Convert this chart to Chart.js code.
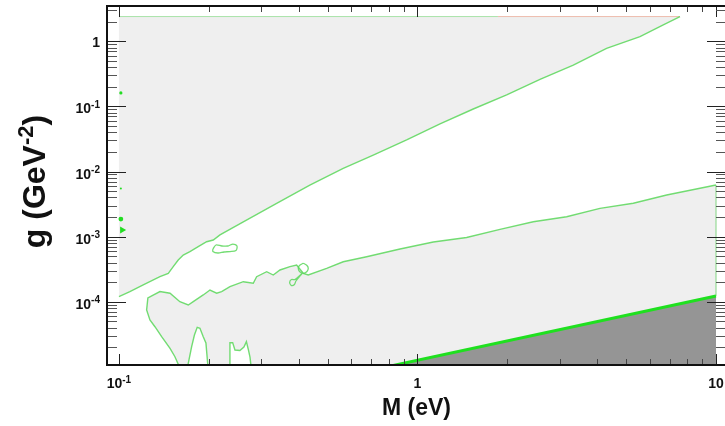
<!DOCTYPE html>
<html>
<head>
<meta charset="utf-8">
<script src="https://cdn.jsdelivr.net/npm/chart.js@4"></script>
<style>
  html, body { margin: 0; padding: 0; background: #fff; }
  #wrap { width: 725px; height: 426px; }
</style>
</head>
<body>
<div id="wrap"><canvas id="myChart" width="725" height="426"></canvas></div>
<script>
// axis ranges: M in eV, g in GeV^-2
var xRange = [0.0912, 10.72];
var yRange = [1.066e-5, 3.485];
var xMajor = [0.1, 1, 10];
var xLabels = [['10', '-1'], ['1', ''], ['10', '']];
var yMajor = [1e-4, 1e-3, 1e-2, 1e-1, 1];
var yLabels = [['10', '-4'], ['10', '-3'], ['10', '-2'], ['10', '-1'], ['1', '']];

var gTop = 2.4;      // top of the scanned g range
var gBottom = 9e-6;  // just below the axis, gets clipped

// upper contour [M, g]
var upperLine = [
  [0.1, 1.2e-4], [0.1088, 1.43e-4], [0.1206, 1.81e-4], [0.1372, 2.42e-4], [0.1463, 2.73e-4],
  [0.152, 3.45e-4], [0.158, 4.37e-4], [0.1642, 5.21e-4], [0.1729, 5.86e-4], [0.1843, 7.0e-4],
  [0.1967, 8.35e-4], [0.207, 8.87e-4], [0.218, 1.06e-3], [0.261, 1.69e-3], [0.3375, 3.25e-3],
  [0.436, 6.2e-3], [0.564, 0.0112], [0.711, 0.0179], [0.92, 0.0305], [1.19, 0.0537],
  [1.538, 0.0912], [1.99, 0.15], [2.573, 0.26], [3.327, 0.432], [4.30, 0.78],
  [5.565, 1.177], [6.66, 1.78], [7.575, 2.4]
];

// lower contour, starting from the bottom of the lump
var lowerLine = [
  [0.161, 9e-6], [0.154, 1.43e-5], [0.1483, 1.92e-5], [0.139, 2.9e-5], [0.132, 4.13e-5],
  [0.127, 5.23e-5], [0.1238, 7.46e-5], [0.125, 1.14e-4], [0.1372, 1.43e-4], [0.1483, 1.35e-4],
  [0.16, 1.0e-4], [0.1707, 8.9e-5], [0.1774, 1.0e-4], [0.1916, 1.27e-4], [0.2018, 1.51e-4],
  [0.2125, 1.35e-4], [0.2208, 1.43e-4], [0.2354, 1.70e-4], [0.261, 2.03e-4], [0.2818, 1.92e-4],
  [0.2892, 2.42e-4], [0.3125, 2.89e-4], [0.3288, 2.57e-4], [0.3463, 3.07e-4], [0.374, 3.45e-4],
  [0.3937, 3.66e-4], [0.4145, 2.73e-4], [0.4307, 2.57e-4], [0.4963, 3.26e-4], [0.564, 4.11e-4],
  [0.6757, 4.91e-4], [0.874, 6.45e-4], [1.13, 8.26e-4], [1.461, 9.68e-4], [1.89, 1.29e-3],
  [2.443, 1.69e-3], [3.16, 2.02e-3], [4.087, 2.72e-3], [5.284, 3.25e-3], [6.836, 4.36e-3],
  [8.84, 5.52e-3], [10, 6.2e-3]
];

var lowerLoop = [
  [0.4145, 3.89e-4], [0.4265, 3.60e-4], [0.4307, 3.26e-4], [0.4265, 2.91e-4], [0.4145, 2.73e-4],
  [0.4025, 2.91e-4], [0.3988, 3.26e-4], [0.4025, 3.60e-4], [0.4145, 3.89e-4]
];
var lowerTail = [
  [0.4105, 2.71e-4], [0.3887, 2.19e-4], [0.3783, 2.19e-4], [0.3731, 1.97e-4], [0.3783, 1.77e-4],
  [0.3872, 1.84e-4], [0.3917, 2.08e-4], [0.4105, 2.71e-4]
];
var island = [
  [0.2064, 6.45e-4], [0.2113, 7.43e-4], [0.2213, 7.17e-4], [0.2318, 7.17e-4], [0.2409, 7.69e-4],
  [0.2485, 7.17e-4], [0.2466, 6.11e-4], [0.2354, 5.90e-4], [0.2248, 5.80e-4], [0.2146, 5.60e-4],
  [0.2064, 5.90e-4], [0.2064, 6.45e-4]
];

// excluded pockets inside the lower region
var spikeHole = [
  [0.169, 9e-6], [0.1752, 2.04e-5], [0.179, 3.08e-5], [0.1829, 4.04e-5], [0.1868, 3.90e-5],
  [0.1916, 2.90e-5], [0.1956, 2.32e-5], [0.1991, 9e-6]
];
var notchHole = [
  [0.2342, 9e-6], [0.2354, 2.34e-5], [0.2404, 2.35e-5], [0.2447, 1.81e-5], [0.2542, 1.78e-5],
  [0.2622, 2.01e-5], [0.2673, 2.43e-5], [0.271, 1.88e-5], [0.2748, 1.41e-5], [0.2779, 9e-6]
];

// dark excluded wedge, bounded by the bright green line
var darkEdge = [[0.83, 1.05e-5], [10, 1.22e-4]];
var topSplit = 1.86;
var edgeDots = [[0.1015, 0.161], [0.1015, 0.0055], [0.1015, 0.00186]];
var edgeDotSize = [1.6, 1, 2.4];
var edgeTriangle = [[0.1025, 0.00126]];

function pts(a) { return a.map(function (p) { return { x: p[0], y: p[1] }; }); }

var lightGray = '#efefef';
var darkGray = '#959595';
var contour = 'rgba(90, 215, 90, 0.85)';

var upperShape = [[0.1, gTop], [7.575, gTop]].concat(upperLine.slice().reverse());
var lowerShape = lowerLine.concat([[10, gBottom]]);
var darkShape = [[darkEdge[0][0], gBottom]].concat(darkEdge, [[10, gBottom]]);

function region(data, color, order) {
  return { data: pts(data), showLine: true, fill: 'shape', backgroundColor: color,
    borderWidth: 0, borderColor: 'rgba(0,0,0,0)', pointRadius: 0, order: order };
}
function curve(data, color, width, order, tension) {
  return { data: pts(data), showLine: true, fill: false, borderColor: color,
    borderWidth: width, pointRadius: 0, order: order, tension: tension || 0 };
}

var spike = region(spikeHole, '#ffffff', 8);
spike.borderColor = contour; spike.borderWidth = 1.4;
var notch = region(notchHole, '#ffffff', 8);
notch.borderColor = contour; notch.borderWidth = 1.4;

var datasets = [
  region(upperShape, lightGray, 10),
  region(lowerShape, lightGray, 10),
  spike,
  notch,
  region(darkShape, darkGray, 7),
  curve(darkEdge, '#1fe01f', 3, 3),
  curve(upperLine, contour, 1.4, 4),
  curve(lowerLine, contour, 1.4, 4),
  curve(lowerLoop, contour, 1.3, 4, 0.4),
  curve(lowerTail, contour, 1.3, 4, 0.3),
  curve(island, contour, 1.3, 4, 0.3),
  curve([[0.1, gTop], [topSplit, gTop]], 'rgba(140, 220, 140, 0.7)', 1, 4),
  curve([[topSplit, gTop], [7.575, gTop]], 'rgba(235, 165, 145, 0.7)', 1, 4),
  curve([[10, 6.2e-3], [10, 1.22e-4]], 'rgba(140, 215, 140, 0.45)', 1, 4),
  { data: pts(edgeDots), showLine: false, pointRadius: edgeDotSize, pointBorderWidth: 0,
    backgroundColor: '#22dd22', order: 1 },
  { data: pts(edgeTriangle), showLine: false, pointStyle: 'triangle', rotation: 90, pointRadius: 4,
    pointBorderWidth: 0, backgroundColor: '#22dd22', order: 1 }
];

var font = '"Liberation Sans", Arial, sans-serif';

// frame, inward ticks and ROOT-style labels
var rootFrame = {
  id: 'rootFrame',
  afterDraw: function (chart) {
    var ctx = chart.ctx, a = chart.chartArea;
    var xs = chart.scales.x, ys = chart.scales.y;
    ctx.save();

    function seg(x1, y1, x2, y2) { ctx.beginPath(); ctx.moveTo(x1, y1); ctx.lineTo(x2, y2); ctx.stroke(); }

    ctx.lineWidth = 1;
    for (var d = -2; d <= 1; d++) {
      for (var k = 1; k <= 9; k++) {
        var v = k * Math.pow(10, d);
        if (v >= xRange[0] && v <= xRange[1]) {
          var px = Math.round(xs.getPixelForValue(v)) + 0.5;
          var lx = k === 1 ? 11 : 6;
          ctx.strokeStyle = k === 1 ? '#222' : '#444';
          seg(px, a.bottom, px, a.bottom - lx);
          seg(px, a.top, px, a.top + lx);
        }
      }
    }
    for (var e = -6; e <= 1; e++) {
      for (var j = 1; j <= 9; j++) {
        var w = j * Math.pow(10, e);
        if (w >= yRange[0] && w <= yRange[1]) {
          var py = Math.round(ys.getPixelForValue(w)) + 0.5;
          var ly = j === 1 ? 19 : 10;
          ctx.strokeStyle = j === 1 ? '#222' : '#555';
          seg(a.left, py, a.left + ly, py);
          seg(a.right + 1, py, a.right + 1 - ly, py);
        }
      }
    }

    ctx.strokeStyle = '#111';
    ctx.lineWidth = 2;
    ctx.beginPath();
    ctx.moveTo(a.right + 4, a.top);
    ctx.lineTo(a.left, a.top);
    ctx.lineTo(a.left, a.bottom);
    ctx.lineTo(a.right + 4, a.bottom);
    ctx.stroke();

    ctx.fillStyle = '#111';
    var baseFont = 'bold 14px ' + font, supFont = 'bold 10px ' + font;

    // y tick labels
    yMajor.forEach(function (v, i) {
      var py = ys.getPixelForValue(v);
      var lab = yLabels[i];
      ctx.font = supFont;
      var sw = lab[1] ? ctx.measureText(lab[1]).width : 0;
      ctx.textAlign = 'right';
      ctx.textBaseline = 'alphabetic';
      if (lab[1]) {
        ctx.fillText(lab[1], 100, py + 1.5);
        ctx.font = baseFont;
        ctx.fillText(lab[0], 100 - sw, py + 7);
      } else {
        ctx.font = baseFont;
        ctx.fillText(lab[0], 100, py + 5.5);
      }
    });

    // x tick labels
    xMajor.forEach(function (v, i) {
      var px = xs.getPixelForValue(v);
      var lab = xLabels[i];
      ctx.font = baseFont;
      var bw = ctx.measureText(lab[0]).width;
      ctx.font = supFont;
      var sw = lab[1] ? ctx.measureText(lab[1]).width : 0;
      var x0 = px - (bw + sw) / 2;
      ctx.textAlign = 'left';
      ctx.font = baseFont;
      ctx.fillText(lab[0], x0, 388);
      if (lab[1]) {
        ctx.font = supFont;
        ctx.fillText(lab[1], x0 + bw, 383);
      }
    });

    // axis titles
    ctx.font = 'bold 23px ' + font;
    ctx.textAlign = 'center';
    ctx.fillText('M (eV)', 416.5, 415);

    ctx.save();
    ctx.translate(45, 181.5);
    ctx.rotate(-Math.PI / 2);
    var tFont = 'bold 32px ' + font, tSup = 'bold 22px ' + font;
    ctx.font = tFont;
    var w1 = ctx.measureText('g (GeV').width, w3 = ctx.measureText(')').width;
    ctx.font = tSup;
    var w2 = ctx.measureText('-2').width;
    var s = -(w1 + w2 + w3) / 2;
    ctx.textAlign = 'left';
    ctx.font = tFont;
    ctx.fillText('g (GeV', s, 0);
    ctx.font = tSup;
    ctx.fillText('-2', s + w1, -12);
    ctx.font = tFont;
    ctx.fillText(')', s + w1 + w2, 0);
    ctx.restore();

    ctx.restore();
  }
};

var ctx = document.getElementById('myChart').getContext('2d');
var myChart = new Chart(ctx, {
  type: 'scatter',
  data: { datasets: datasets },
  options: {
    responsive: false,
    animation: false,
    layout: { autoPadding: false, padding: { left: 107, top: 6, right: 0, bottom: 61 } },
    scales: {
      x: { type: 'logarithmic', min: xRange[0], max: xRange[1], display: false },
      y: { type: 'logarithmic', min: yRange[0], max: yRange[1], display: false }
    },
    plugins: {
      legend: { display: false },
      tooltip: { enabled: false }
    }
  },
  plugins: [rootFrame]
});
</script>
</body>
</html>
